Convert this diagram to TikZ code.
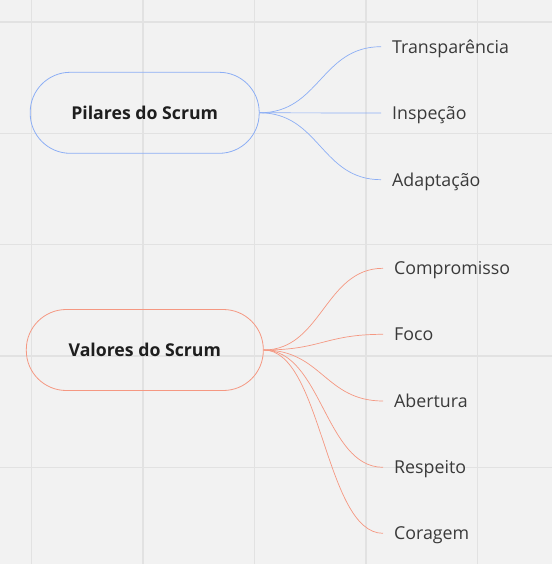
\documentclass[tikz,border=0pt]{standalone}
\usepackage{fontspec}
\setmainfont{Open Sans}
\definecolor{bg}{HTML}{F2F2F2}
\definecolor{gridc}{HTML}{E2E2E2}
\definecolor{pblue}{HTML}{8CAEF5}
\definecolor{vred}{HTML}{F59882}
\definecolor{titlec}{HTML}{1E1E1E}
\definecolor{labelc}{HTML}{3A3A3A}
\begin{document}
\begin{tikzpicture}[x=1pt,y=-1pt,
  topic/.style={draw, line width=0.8pt, rounded corners=40pt, minimum height=81pt,
    inner sep=0pt, text height=13pt, text depth=0pt, text=titlec,
    font=\fontsize{17.7}{20}\selectfont\bfseries},
  leaf/.style={anchor=west, inner xsep=11pt, inner ysep=0pt, text height=13.2pt,
    text depth=0pt, text=labelc, font=\fontsize{17.8}{20}\selectfont},
  link/.style={line width=0.7pt}]
\fill[bg] (0,0) rectangle (552,564);
\useasboundingbox (0,0) rectangle (552,564);
\foreach \g in {31.5,143,254.5,366,477.5} \draw[gridc, line width=1.3pt] (\g,0) -- (\g,564);
\foreach \g in {22,133.5,244.5,356,467.5} \draw[gridc, line width=1.3pt] (0,\g) -- (552,\g);

\node[topic, draw=pblue, minimum width=229pt] (p) at (144.7,112.8) {Pilares do Scrum};
\node[leaf] (t1) at (381,46.7) {Transparência};
\node[leaf] (t2) at (381,113) {Inspeção};
\node[leaf] (t3) at (381,179.7) {Adaptação};
\foreach \n in {t1,t2,t3}
  \draw[link, pblue] (p.east) .. controls +(60,0) and +(-60,0) .. (\n.west);

\node[topic, draw=vred, minimum width=237pt] (v) at (144.8,350) {Valores do Scrum};
\node[leaf] (r1) at (383,268.3) {Compromisso};
\node[leaf] (r2) at (383,334.3) {Foco};
\node[leaf] (r3) at (383,401) {Abertura};
\node[leaf] (r4) at (383,467.3) {Respeito};
\node[leaf] (r5) at (383,533.3) {Coragem};
\foreach \n in {r1,r2,r3,r4,r5}
  \draw[link, vred] (v.east) .. controls +(58,0) and +(-58,0) .. (\n.west);
\end{tikzpicture}
\end{document}
